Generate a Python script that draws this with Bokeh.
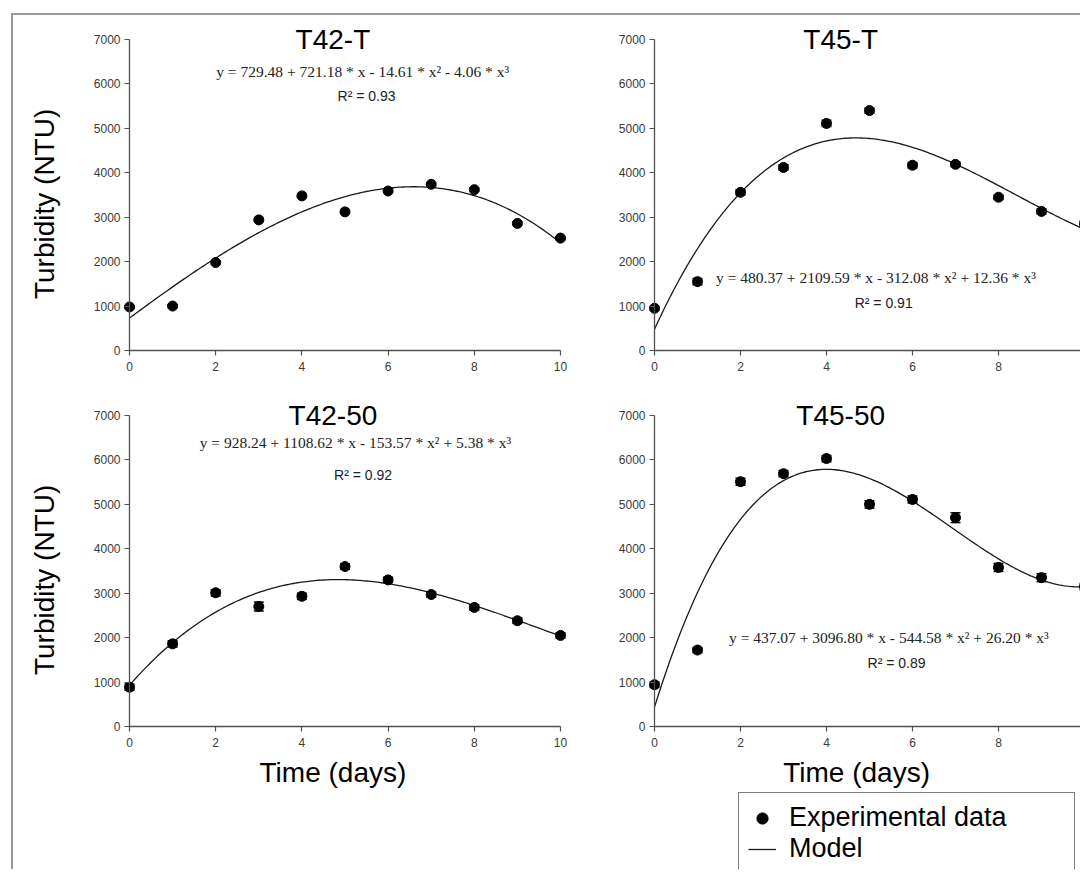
import numpy as np
from bokeh.plotting import figure
from bokeh.models import (ColumnDataSource, Label, LinearAxis, FixedTicker, Whisker,
                          TeeHead, Legend, LegendItem, Range1d)
from bokeh.layouts import column, row
from bokeh.embed import file_html
from bokeh.resources import INLINE

# ---------------- data ----------------
days = [0, 1, 2, 3, 4, 5, 6, 7, 8, 9, 10]
x_ticks = [0, 2, 4, 6, 8, 10]
y_ticks = [0, 1000, 2000, 3000, 4000, 5000, 6000, 7000]

panel_titles = ["T42-T", "T45-T", "T42-50", "T45-50"]

t42_t_turbidity = [980, 1000, 1980, 2940, 3480, 3120, 3590, 3740, 3620, 2860, 2530]
t45_t_turbidity = [950, 1550, 3560, 4120, 5110, 5400, 4170, 4190, 3450, 3130, 2850]
t42_50_turbidity = [885, 1860, 3010, 2700, 2930, 3600, 3300, 2970, 2680, 2380, 2050]
t45_50_turbidity = [940, 1720, 5510, 5690, 6030, 5000, 5110, 4700, 3580, 3350, 3150]

t42_t_error = [30, 30, 30, 30, 30, 30, 30, 30, 30, 30, 30]
t45_t_error = [40, 70, 60, 60, 70, 60, 60, 50, 50, 60, 60]
t42_50_error = [70, 70, 70, 100, 70, 60, 60, 60, 60, 60, 60]
t45_50_error = [60, 60, 80, 70, 70, 80, 80, 110, 90, 90, 70]

# model coefficients printed on the chart: y = c0 + c1*x + c2*x^2 + c3*x^3
t42_t_coef = [729.48, 721.18, -14.61, -4.06]
t45_t_coef = [480.37, 2109.59, -312.08, 12.36]
t42_50_coef = [928.24, 1108.62, -153.57, 5.38]
t45_50_coef = [437.07, 3096.80, -544.58, 26.20]

r_squared = ["0.93", "0.91", "0.92", "0.89"]

FONT = "Liberation Sans"
AXIS_COLOR = "#505050"

# ---------------- layout geometry (pixels) ----------------
ORIGIN_X, ORIGIN_Y = 13, 15          # where the panels start (inside the grey frame)
LEFT_W, RIGHT_W = 580, 487
TOP_H, BOT_H = 370, 484
PX_PER_DAY_L, PX_PER_DAY_R = 43.1, 43.0
PX_PER_NTU = 0.04443
X0_L, X0_R = 129, 654                 # pixel x of day 0 in left / right panels
Y0_T, Y0_B = 350, 726                 # pixel y of 0 NTU in top / bottom panels


def eq_text(c):
    s = f"y = {c[0]:.2f}  +  {c[1]:.2f} * x"
    for coef, sup in ((c[2], "\u00b2"), (c[3], "\u00b3")):
        if coef < 0:
            s += f" - {abs(coef):.2f} * x{sup}"
        else:
            s += f"  +  {coef:.2f} * x{sup}"
    return s


def make_panel(title, vals, errs, coef, r2, left_px, top_px, width, height,
               x0_px, y0_px, ppd, title_x, eq_x, eq_y, r2_y, ylabel, xlabel_x):
    x_start = (left_px - x0_px) / ppd
    x_end = (left_px + width - x0_px) / ppd
    y_end = (y0_px - top_px) / PX_PER_NTU
    y_start = (y0_px - (top_px + height)) / PX_PER_NTU
    p = figure(width=width, height=height, output_backend="svg", toolbar_location=None,
               x_range=Range1d(x_start, x_end), y_range=Range1d(y_start, y_end),
               x_axis_location=None, y_axis_location=None,
               min_border_left=0, min_border_right=0,
               min_border_top=0, min_border_bottom=0)
    p.outline_line_color = None
    p.background_fill_color = "white"
    p.border_fill_color = "white"
    p.xgrid.visible = False
    p.ygrid.visible = False

    xa = LinearAxis(ticker=FixedTicker(ticks=x_ticks), bounds=(0, 10), fixed_location=0)
    ya = LinearAxis(ticker=FixedTicker(ticks=y_ticks), bounds=(0, 7000), fixed_location=0)
    for ax in (xa, ya):
        ax.axis_line_color = AXIS_COLOR
        ax.axis_line_width = 1.3
        ax.major_tick_line_color = AXIS_COLOR
        ax.major_tick_line_width = 1.2
        ax.major_tick_out = 5
        ax.major_tick_in = 0
        ax.minor_tick_out = 0
        ax.minor_tick_in = 0
        ax.major_label_text_font = FONT
        ax.major_label_text_font_size = "12px"
        ax.major_label_text_color = "#3a3a3a"
    xa.major_label_standoff = 6
    ya.major_label_standoff = 4
    p.add_layout(xa, "below")
    p.add_layout(ya, "left")

    # model curve
    xs = np.linspace(0, 10, 201)
    ys = coef[0] + coef[1] * xs + coef[2] * xs ** 2 + coef[3] * xs ** 3
    line_r = p.line(xs, ys, line_color="#1a1a1a", line_width=1.3)

    # error bars
    src = ColumnDataSource(dict(base=days,
                                lower=[v - e for v, e in zip(vals, errs)],
                                upper=[v + e for v, e in zip(vals, errs)]))
    wh = Whisker(source=src, base="base", lower="lower", upper="upper",
                 line_color="black", line_width=1.5,
                 upper_head=TeeHead(size=10, line_color="black", line_width=1.5),
                 lower_head=TeeHead(size=10, line_color="black", line_width=1.5))
    p.add_layout(wh)

    # experimental points
    pts_r = p.scatter(days, vals, size=10, color="black")

    # title
    p.add_layout(Label(x=title_x, y=7000, text=title, text_align="center",
                       text_baseline="middle", text_font=FONT, text_font_size="28px",
                       text_color="black"))
    # equation and R2
    p.add_layout(Label(x=eq_x, y=eq_y, text=eq_text(coef), text_align="center",
                       text_baseline="middle", text_font="Liberation Serif",
                       text_font_size="15.5px", text_color="#222222"))
    p.add_layout(Label(x=eq_x, y=r2_y, text=f"R\u00b2 = {r2}", text_align="center",
                       text_baseline="middle", text_font=FONT,
                       text_font_size="14px", text_color="#222222"))
    if ylabel:
        p.add_layout(Label(x=-1.97, y=3300, text="Turbidity (NTU)", angle=np.pi / 2,
                           text_align="center", text_baseline="middle", text_font=FONT,
                           text_font_size="28px", text_color="black"))
    if xlabel_x is not None:
        p.add_layout(Label(x=xlabel_x, y=-1035, text="Time (days)", text_align="center",
                           text_baseline="middle", text_font=FONT,
                           text_font_size="28px", text_color="black"))
    return p, pts_r, line_r


LX, RX = ORIGIN_X, ORIGIN_X + LEFT_W
TY, BY = ORIGIN_Y, ORIGIN_Y + TOP_H

tl, _, _ = make_panel(panel_titles[0], t42_t_turbidity, t42_t_error, t42_t_coef, r_squared[0],
                      LX, TY, LEFT_W, TOP_H, X0_L, Y0_T, PX_PER_DAY_L,
                      4.72, 5.5, 6280, 5720, True, None)
tr, _, _ = make_panel(panel_titles[1], t45_t_turbidity, t45_t_error, t45_t_coef, r_squared[1],
                      RX, TY, RIGHT_W, TOP_H, X0_R, Y0_T, PX_PER_DAY_R,
                      4.33, 5.33, 1644, 1058, False, None)
bl, _, _ = make_panel(panel_titles[2], t42_50_turbidity, t42_50_error, t42_50_coef, r_squared[2],
                      LX, BY, LEFT_W, BOT_H, X0_L, Y0_B, PX_PER_DAY_L,
                      4.72, 5.42, 6396, 5653, True, 4.72)
br, pts, ln = make_panel(panel_titles[3], t45_50_turbidity, t45_50_error, t45_50_coef, r_squared[3],
                         RX, BY, RIGHT_W, BOT_H, X0_R, Y0_B, PX_PER_DAY_R,
                         4.33, 5.63, 2004, 1419, False, 4.70)

legend = Legend(items=[LegendItem(label="Experimental data", renderers=[pts]),
                       LegendItem(label="Model", renderers=[ln])],
                location=(738 - RX, -5))
legend.label_text_font = FONT
legend.label_text_font_size = "27px"
legend.label_text_color = "black"
legend.label_height = 30
legend.glyph_height = 30
legend.glyph_width = 28
legend.label_standoff = 13
legend.label_width = 276
legend.spacing = 0
legend.padding = 9
legend.margin = 0
legend.border_line_color = "black"
legend.border_line_width = 1
legend.background_fill_color = "white"
legend.background_fill_alpha = 1.0
br.add_layout(legend)

layout = column(row(tl, tr, spacing=0), row(bl, br, spacing=0), spacing=0,
                margin=(13, 0, 0, 11),
                styles={"border-top": "2px solid #9a9a9a", "border-left": "2px solid #9a9a9a"})

open("out.html", "w").write(file_html(layout, INLINE))
